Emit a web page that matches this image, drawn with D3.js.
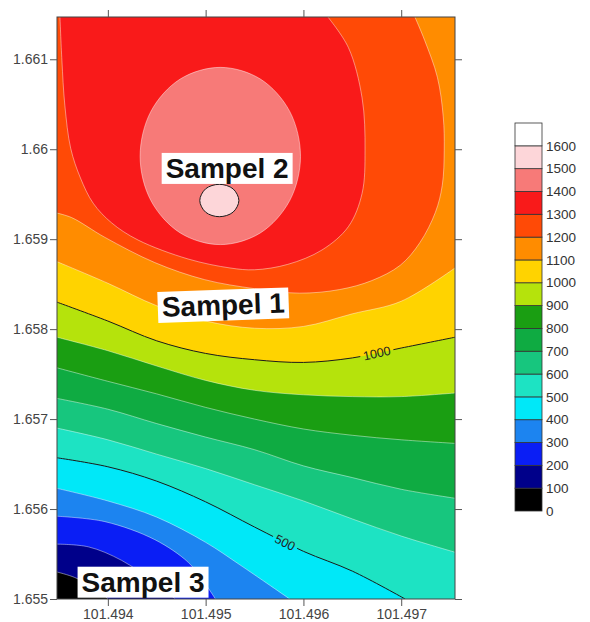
<!DOCTYPE html>
<html>
<head>
<meta charset="utf-8">
<script src="https://cdn.jsdelivr.net/npm/d3@7"></script>
<style>
  body { margin: 0; background: #fff; }
  text { font-family: "Liberation Sans", Arial, sans-serif; }
</style>
</head>
<body>
<svg id="chart" width="590" height="622"></svg>
<script>
// contour levels and the colour of the band above each level
var levels = [0, 100, 200, 300, 400, 500, 600, 700, 800, 900, 1000, 1100, 1200, 1300, 1400, 1500, 1600];
var bandColors = ["#000000", "#00008a", "#0a1ef5", "#1c84f0", "#00e8f8", "#1de3c3", "#17c67e", "#0fab42",
                  "#1a9e12", "#b5e30c", "#ffd300", "#ff8c00", "#ff4a06", "#f91a1a", "#f77a78", "#fdd6d9", "#ffffff"];
var xTicks = [101.494, 101.495, 101.496, 101.497];
var yTicks = [1.655, 1.656, 1.657, 1.658, 1.659, 1.66, 1.661];

// isolines crossing from the left edge to the right edge, read at these longitudes
var gridLon = [101.49348, 101.494, 101.4945, 101.495, 101.4955, 101.496, 101.4965, 101.497, 101.49755];
var iso600Lat = [1.65690, 1.65677, 1.65661, 1.65645, 1.65627, 1.65609, 1.65589, 1.65570, 1.65552];
var iso700Lat = [1.65723, 1.65711, 1.65695, 1.65680, 1.65666, 1.65648, 1.65635, 1.65622, 1.65612];
var iso800Lat = [1.65757, 1.65742, 1.65728, 1.65713, 1.65700, 1.65689, 1.65682, 1.65677, 1.65673];
var iso900Lat = [1.65791, 1.65776, 1.65759, 1.65743, 1.65732, 1.65727, 1.65725, 1.65725, 1.65729];
var iso1000Lat = [1.65830, 1.65809, 1.65787, 1.65773, 1.65766, 1.65763, 1.65768, 1.65779, 1.65791];
var iso1100Lat = [1.65875, 1.65851, 1.65826, 1.65809, 1.65801, 1.65803, 1.65817, 1.65831, 1.65868];

// isolines ending on the bottom edge
var iso100Lon = [101.49348, 101.49366, 101.4939, 101.494];
var iso100Lat = [1.6553, 1.65524, 1.6551, 1.655];
var iso200Lon = [101.49348, 101.4938, 101.49414, 101.49448, 101.49469];
var iso200Lat = [1.65561, 1.65558, 1.65543, 1.65518, 1.655];
var iso300Lon = [101.49348, 101.49397, 101.49448, 101.49482, 101.49497, 101.4951];
var iso300Lat = [1.65592, 1.65586, 1.65566, 1.65541, 1.65521, 1.655];
var iso400Lon = [101.49348, 101.494, 101.4945, 101.495, 101.49535, 101.49586];
var iso400Lat = [1.65623, 1.65609, 1.65591, 1.65563, 1.65538, 1.655];
var iso500Lon = [101.49348, 101.494, 101.4945, 101.495, 101.4955, 101.496, 101.4965, 101.49704];
var iso500Lat = [1.65657, 1.65647, 1.65631, 1.65608, 1.65580, 1.65553, 1.65531, 1.655];

// isolines around the high near Sampel 2
var iso1200Lon = [101.49348, 101.49363, 101.49397, 101.49448, 101.49499, 101.4955, 101.49596, 101.49637, 101.4967,
                  101.49699, 101.49719, 101.49735, 101.49742, 101.49744, 101.49743, 101.49737, 101.49724, 101.49714];
var iso1200Lat = [1.65929, 1.65924, 1.65902, 1.65874, 1.65855, 1.65845, 1.6584, 1.65844, 1.65854,
                  1.65871, 1.65896, 1.6593, 1.6596, 1.65999, 1.66036, 1.6608, 1.66121, 1.66147];
var iso1300Lon = [101.49351, 101.49353, 101.49356, 101.49362, 101.49372, 101.49385, 101.49404, 101.49431, 101.49482, 101.49525,
                  101.4955, 101.49584, 101.49619, 101.49646, 101.4966, 101.49663, 101.4966, 101.49646, 101.49625];
var iso1300Lat = [1.66147, 1.66099, 1.66049, 1.66001, 1.65968, 1.6594, 1.65918, 1.65899, 1.65878, 1.65868,
                  1.65866, 1.65872, 1.65888, 1.65914, 1.65951, 1.65999, 1.66057, 1.66113, 1.66147];
var iso1400Lon = [101.49433, 101.49444, 101.49474, 101.49515, 101.49556, 101.49586,
                  101.49597, 101.49586, 101.49556, 101.49515, 101.49474, 101.49444];
var iso1400Lat = [1.65992, 1.66042, 1.66078, 1.66091, 1.66078, 1.66042,
                  1.65992, 1.65943, 1.65907, 1.65894, 1.65907, 1.65943];
var iso1500Lon = [101.49494, 101.495, 101.49514, 101.49528, 101.49534, 101.49528, 101.49514, 101.495];
var iso1500Lat = [1.65943, 1.65956, 1.65961, 1.65956, 1.65943, 1.6593, 1.65925, 1.6593];

// labelled isolines
var labelLevels = [1000, 500];
var labelLon = [101.49675, 101.49581];

// sample annotations
var sampleNames = ["Sampel 1", "Sampel 2", "Sampel 3"];
var sampleLon = [101.49518, 101.49522, 101.49436];
var sampleLat = [1.65827, 1.65979, 1.65519];

var isolines = [
  {level: 100, lon: iso100Lon, lat: iso100Lat},
  {level: 200, lon: iso200Lon, lat: iso200Lat},
  {level: 300, lon: iso300Lon, lat: iso300Lat},
  {level: 400, lon: iso400Lon, lat: iso400Lat},
  {level: 500, lon: iso500Lon, lat: iso500Lat},
  {level: 600, lon: gridLon, lat: iso600Lat},
  {level: 700, lon: gridLon, lat: iso700Lat},
  {level: 800, lon: gridLon, lat: iso800Lat},
  {level: 900, lon: gridLon, lat: iso900Lat},
  {level: 1000, lon: gridLon, lat: iso1000Lat},
  {level: 1100, lon: gridLon, lat: iso1100Lat},
  {level: 1200, lon: iso1200Lon, lat: iso1200Lat},
  {level: 1300, lon: iso1300Lon, lat: iso1300Lat},
  {level: 1400, lon: iso1400Lon, lat: iso1400Lat, closed: true},
  {level: 1500, lon: iso1500Lon, lat: iso1500Lat, closed: true}
];

var svg = d3.select("#chart");

var x = d3.scaleLinear().domain([101.49348, 101.49755]).range([57, 455]);
var y = d3.scaleLinear().domain([1.655, 1.66147]).range([599, 17]);
var color = d3.scaleThreshold().domain(levels.slice(1)).range(bandColors);

var X0 = x.range()[0], X1 = x.range()[1], Y0 = y.range()[1], Y1 = y.range()[0];
var W = X1 - X0, H = Y1 - Y0, P = 2 * W + 2 * H;

// position along the frame, running counter-clockwise from the top-right corner
function perim(p) {
  if (Math.abs(p[1] - Y0) < 1.5) return X1 - p[0];
  if (Math.abs(p[0] - X0) < 1.5) return W + (p[1] - Y0);
  if (Math.abs(p[1] - Y1) < 1.5) return W + H + (p[0] - X0);
  return 2 * W + H + (Y1 - p[1]);
}
var corners = [{p: 0, pt: [X1, Y0]}, {p: W, pt: [X0, Y0]}, {p: W + H, pt: [X0, Y1]}, {p: 2 * W + H, pt: [X1, Y1]}];

var openLine = d3.line().curve(d3.curveCatmullRom.alpha(0.5));
var closedLine = d3.line().curve(d3.curveCatmullRomClosed.alpha(0.5));

function points(c) {
  return d3.zip(c.lon, c.lat).map(d => [x(d[0]), y(d[1])]);
}
function linePath(c) {
  return c.closed ? closedLine(points(c)) : openLine(points(c));
}
// area above the isoline: the curve, then back along the frame
function regionPath(c) {
  var pts = points(c);
  if (c.closed) return closedLine(pts);
  var pe = perim(pts[pts.length - 1]), ps = perim(pts[0]);
  var target = (ps - pe + P) % P;
  var walk = corners
    .map(k => ({d: (k.p - pe + P) % P, pt: k.pt}))
    .filter(k => k.d > 0 && k.d < target)
    .sort((a, b) => a.d - b.d);
  return openLine(pts) + walk.map(k => "L" + k.pt[0] + "," + k.pt[1]).join("") + "Z";
}

var defs = svg.append("defs");
defs.append("clipPath").attr("id", "plotClip")
  .append("rect").attr("x", X0).attr("y", Y0).attr("width", W).attr("height", H);

var plot = svg.append("g").attr("clip-path", "url(#plotClip)");

// lowest band under everything
plot.append("rect")
  .attr("x", X0).attr("y", Y0).attr("width", W).attr("height", H)
  .attr("fill", color(0));

plot.selectAll(".band")
  .data(isolines)
  .enter()
  .append("path")
  .classed("band", true)
  .attr("fill", d => color(d.level))
  .attr("d", regionPath);

var major = d => d.level % 500 === 0;

var lines = plot.selectAll(".iso")
  .data(isolines)
  .enter()
  .append("path")
  .classed("iso", true)
  .attr("fill", "none")
  .attr("stroke", d => major(d) ? "#1a1a1a" : "#ffffff")
  .attr("stroke-opacity", d => major(d) ? 1 : 0.55)
  .attr("stroke-width", d => major(d) ? 1 : 0.8)
  .attr("d", linePath);

// labels sitting in a gap of the line
function pointNear(node, px) {
  var len = node.getTotalLength(), best = 0, bd = Infinity;
  for (var l = 0; l <= len; l += 1) {
    var q = node.getPointAtLength(l);
    if (Math.abs(q.x - px) < bd) { bd = Math.abs(q.x - px); best = l; }
  }
  var a = node.getPointAtLength(Math.max(0, best - 8));
  var b = node.getPointAtLength(Math.min(len, best + 8));
  var p = node.getPointAtLength(best);
  return {x: p.x, y: p.y, angle: Math.atan2(b.y - a.y, b.x - a.x) * 180 / Math.PI};
}

labelLevels.forEach(function(lv, i) {
  var sel = lines.filter(d => d.level === lv);
  var pos = pointNear(sel.node(), x(labelLon[i]));
  var t = plot.append("text")
    .attr("transform", "translate(" + pos.x + "," + pos.y + ") rotate(" + pos.angle + ")")
    .attr("text-anchor", "middle")
    .attr("dy", "0.35em")
    .attr("font-size", "12.5px")
    .attr("fill", "#222")
    .text(lv);
  var tw = t.node().getComputedTextLength();
  var m = defs.append("mask").attr("id", "gap" + lv)
    .attr("maskUnits", "userSpaceOnUse")
    .attr("x", 0).attr("y", 0).attr("width", 590).attr("height", 622);
  m.append("rect").attr("width", 590).attr("height", 622).attr("fill", "#fff");
  m.append("rect")
    .attr("x", -tw / 2 - 3).attr("y", -7).attr("width", tw + 6).attr("height", 14)
    .attr("transform", "translate(" + pos.x + "," + pos.y + ") rotate(" + pos.angle + ")")
    .attr("fill", "#000");
  sel.attr("mask", "url(#gap" + lv + ")");
});

// frame
svg.append("rect")
  .attr("x", X0).attr("y", Y0).attr("width", W).attr("height", H)
  .attr("fill", "none").attr("stroke", "#444").attr("stroke-width", 1);

// axes
var fmt = d => String(+d.toFixed(3));
function styleAxis(g) {
  g.select(".domain").remove();
  g.selectAll(".tick line").attr("stroke", "#555");
  g.selectAll(".tick text").attr("fill", "#444").attr("font-size", "14px")
    .attr("font-family", "'Liberation Sans', Arial, sans-serif");
}
svg.append("g").attr("transform", "translate(0," + Y1 + ")")
  .call(d3.axisBottom(x).tickValues(xTicks).tickFormat(fmt).tickSize(7).tickPadding(3))
  .call(styleAxis);
svg.append("g").attr("transform", "translate(0," + Y0 + ")")
  .call(d3.axisTop(x).tickValues(xTicks).tickFormat("").tickSize(7))
  .call(styleAxis);
svg.append("g").attr("transform", "translate(" + X0 + ",0)")
  .call(d3.axisLeft(y).tickValues(yTicks).tickFormat(fmt).tickSize(7).tickPadding(2))
  .call(styleAxis);
svg.append("g").attr("transform", "translate(" + X1 + ",0)")
  .call(d3.axisRight(y).tickValues(yTicks).tickFormat("").tickSize(7))
  .call(styleAxis);

// sample labels
sampleNames.forEach(function(name, i) {
  var tilt = name === "Sampel 1" ? -2 : 0;
  var g = svg.append("g")
    .attr("transform", "translate(" + x(sampleLon[i]) + "," + y(sampleLat[i]) + ") rotate(" + tilt + ")");
  var box = g.append("rect").attr("fill", "#fff");
  var t = g.append("text")
    .attr("text-anchor", "middle")
    .attr("dy", "0.35em")
    .attr("font-size", "28px")
    .attr("font-weight", "bold")
    .attr("fill", "#111")
    .text(name);
  var bb = t.node().getBBox();
  box.attr("x", bb.x - 4).attr("y", bb.y).attr("width", bb.width + 8).attr("height", bb.height);
});

// colour bar
var ly = d3.scaleLinear().domain([0, 1700]).range([511, 123]);
var legend = svg.append("g");
legend.selectAll("rect")
  .data(levels)
  .enter()
  .append("rect")
  .attr("x", 515)
  .attr("width", 27)
  .attr("y", d => ly(d + 100))
  .attr("height", d => ly(d) - ly(d + 100))
  .attr("fill", d => color(d))
  .attr("stroke", "#333")
  .attr("stroke-width", 0.8);
legend.selectAll("text")
  .data(levels)
  .enter()
  .append("text")
  .attr("x", 546)
  .attr("y", d => ly(d))
  .attr("dy", "0.35em")
  .attr("font-size", "13.5px")
  .attr("fill", "#333")
  .text(d => d);
</script>
</body>
</html>
